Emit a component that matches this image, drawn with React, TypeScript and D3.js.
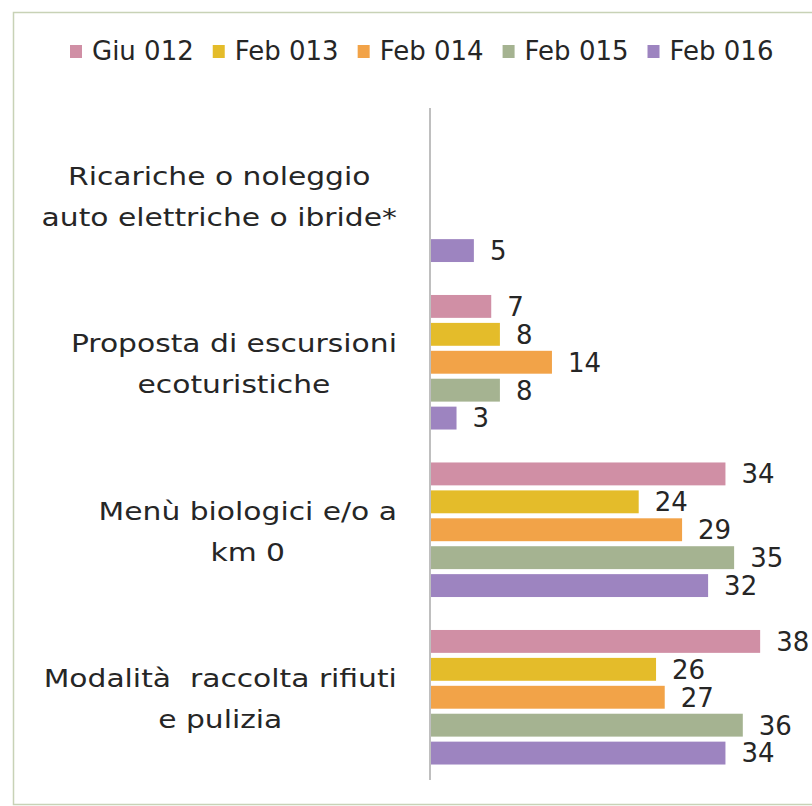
import React from "react";
import * as d3 from "d3";

const categories: string[][] = [
  ["Ricariche o noleggio", "auto elettriche o ibride*"],
  ["Proposta di escursioni", "ecoturistiche"],
  ["Menù biologici e/o a", "km 0"],
  ["Modalità  raccolta rifiuti", "e pulizia"],
];
const categoryKeys = ["ricariche", "proposta", "menu", "modalita"];

const seriesNames = ["Giu 012", "Feb 013", "Feb 014", "Feb 015", "Feb 016"];
const seriesColors = ["#D08FA5", "#E4BC2A", "#F2A348", "#A5B391", "#9D84C0"];

// values per series, in category order (null = no data)
const giu012: (number | null)[] = [null, 7, 34, 38];
const feb013: (number | null)[] = [null, 8, 24, 26];
const feb014: (number | null)[] = [null, 14, 29, 27];
const feb015: (number | null)[] = [null, 8, 35, 36];
const feb016: (number | null)[] = [5, 3, 32, 34];
const seriesValues = [giu012, feb013, feb014, feb015, feb016];

const W = 812;
const H = 806;
const FONT = "'DejaVu Sans', sans-serif";
const TEXT = "#262626";

let measureCtx: CanvasRenderingContext2D | null = null;
function textWidth(s: string, size: number): number {
  if (!measureCtx) {
    const c = document.createElement("canvas");
    measureCtx = c.getContext("2d");
  }
  if (!measureCtx) return s.length * size * 0.6;
  measureCtx.font = `${size}px 'DejaVu Sans'`;
  return measureCtx.measureText(s).width;
}

export default function App() {
  const x = d3.scaleLinear().domain([0, 40]).range([430.5, 777.5]);
  const y = d3.scaleBand<string>().domain(categoryKeys).range([111, 781]).paddingInner(1 / 6).paddingOuter(1 / 12);
  const ys = d3.scaleBand<string>().domain(seriesNames).range([0, y.bandwidth()]).paddingInner(0.18).paddingOuter(0.09);

  const catSize = 24;
  const catScaleX = 1.24;
  const legendSize = 26;
  const valueSize = 26;

  // legend layout
  const legendItems: { x: number; tx: number; name: string; color: string }[] = [];
  let lx = 70;
  seriesNames.forEach((n, i) => {
    const tw = textWidth(n, legendSize);
    legendItems.push({ x: lx, tx: lx + 22, name: n, color: seriesColors[i] });
    lx = lx + 22 + tw + 19;
  });

  return (
    <svg width={W} height={H} style={{ position: "absolute", left: 0, top: 0, background: "#fff" }} fontFamily={FONT}>
      <rect x={0} y={0} width={W} height={H} fill="#fff" />
      {/* chart border */}
      <path d={`M ${W + 5} 12.5 H 13.5 V 804.5 H ${W + 5}`} fill="none" stroke="#C8D2B6" strokeWidth={1.5} />

      {/* legend */}
      {legendItems.map((it) => (
        <g key={it.name}>
          <rect x={it.x} y={45} width={12} height={13} fill={it.color} />
          <text x={it.tx} y={51} dy="0.36em" fontSize={legendSize} fill={TEXT}>
            {it.name}
          </text>
        </g>
      ))}

      {/* bars */}
      {seriesValues.map((vals, si) =>
        vals.map((v, ci) => {
          if (v == null) return null;
          const by = (y(categoryKeys[ci]) ?? 0) + (ys(seriesNames[si]) ?? 0);
          const bh = ys.bandwidth();
          return (
            <g key={`${si}-${ci}`}>
              <rect x={x(0)} y={by} width={x(v) - x(0)} height={bh} fill={seriesColors[si]} />
              <text x={x(v) + 16} y={by + bh / 2} dy="0.36em" fontSize={valueSize} fill={TEXT}>
                {v}
              </text>
            </g>
          );
        })
      )}

      {/* vertical axis */}
      <line x1={x(0) - 0.5} x2={x(0) - 0.5} y1={108} y2={780} stroke="#BFBFBF" strokeWidth={2} />

      {/* category labels */}
      {categories.map((lines, ci) => {
        const cy = (y(categoryKeys[ci]) ?? 0) + y.bandwidth() / 2;
        const maxW = Math.max(...lines.map((l) => textWidth(l, catSize))) * catScaleX;
        const cx = 397 - maxW / 2;
        return (
          <text
            key={categoryKeys[ci]}
            fontSize={catSize}
            fill={TEXT}
            textAnchor="middle"
            transform={`translate(${cx},0) scale(${catScaleX},1)`}
            style={{ whiteSpace: "pre" }}
          >
            {lines.map((l, li) => (
              <tspan key={li} x={0} y={cy - 10 + li * 41}>
                {l}
              </tspan>
            ))}
          </text>
        );
      })}
    </svg>
  );
}
